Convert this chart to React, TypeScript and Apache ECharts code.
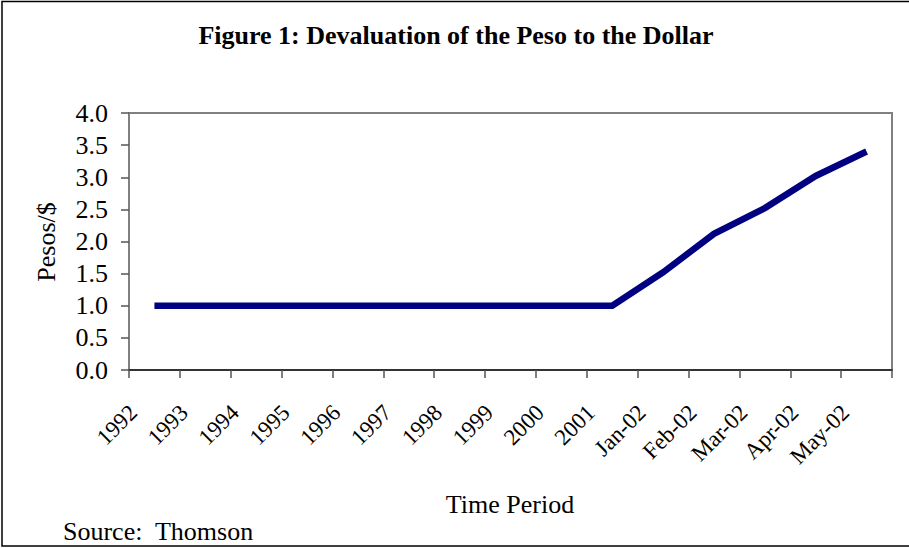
import React, { useEffect, useRef } from "react";
import * as echarts from "echarts";

const categories = [
  "1992", "1993", "1994", "1995", "1996", "1997", "1998", "1999", "2000", "2001",
  "Jan-02", "Feb-02", "Mar-02", "Apr-02", "May-02",
];
const pesosPerDollar = [1.0, 1.0, 1.0, 1.0, 1.0, 1.0, 1.0, 1.0, 1.0, 1.0, 1.52, 2.12, 2.52, 3.02, 3.4];

const FONT = "'Liberation Serif', 'Times New Roman', serif";

export default function App() {
  const ref = useRef<HTMLDivElement>(null);
  useEffect(() => {
    if (!ref.current) return;
    const chart = echarts.init(ref.current, undefined, { renderer: "svg" });
    chart.setOption({
      animation: false,
      backgroundColor: "#ffffff",
      grid: {
        left: 129,
        right: 17,
        top: 113,
        bottom: 178,
        show: true,
        borderColor: "#808080",
        borderWidth: 2,
        backgroundColor: "transparent",
      },
      xAxis: {
        type: "category",
        data: categories,
        boundaryGap: true,
        axisLine: { show: true, lineStyle: { color: "#333333", width: 2 } },
        axisTick: { show: true, length: 8, alignWithLabel: false, lineStyle: { color: "#555555", width: 1.5 } },
        axisLabel: {
          rotate: 45,
          fontFamily: FONT,
          fontSize: 23,
          color: "#000000",
          margin: 60,
          lineHeight: 60,
          verticalAlign: "bottom",
          interval: 0,
        },
        splitLine: { show: false },
      },
      yAxis: {
        type: "value",
        min: 0,
        max: 4,
        interval: 0.5,
        axisLine: { show: true, lineStyle: { color: "#808080", width: 2 } },
        axisTick: { show: true, length: 8, lineStyle: { color: "#555555", width: 1.5 } },
        axisLabel: {
          fontFamily: FONT,
          fontSize: 26,
          color: "#000000",
          margin: 21,
          formatter: (v: number) => v.toFixed(1),
        },
        splitLine: { show: false },
      },
      series: [
        {
          type: "line",
          data: pesosPerDollar,
          symbol: "none",
          lineStyle: { color: "#000080", width: 6.5, cap: "butt", join: "miter" },
        },
      ],
      graphic: [
        {
          type: "rect",
          shape: { x: 2, y: 1.5, width: 940, height: 544.5 },
          style: { fill: "none", stroke: "#000000", lineWidth: 1.5 },
          silent: true,
        },
        {
          type: "text",
          x: 456,
          y: 35,
          style: {
            text: "Figure 1: Devaluation of the Peso to the Dollar",
            font: `bold 26px ${FONT}`,
            fill: "#000000",
            align: "center",
            verticalAlign: "middle",
          },
        },
        {
          type: "text",
          x: 46,
          y: 242,
          rotation: Math.PI / 2,
          style: {
            text: "Pesos/$",
            font: `26px ${FONT}`,
            fill: "#000000",
            align: "center",
            verticalAlign: "middle",
          },
        },
        {
          type: "text",
          x: 510,
          y: 504,
          style: {
            text: "Time Period",
            font: `26px ${FONT}`,
            fill: "#000000",
            align: "center",
            verticalAlign: "middle",
          },
        },
        {
          type: "text",
          x: 63,
          y: 531,
          style: {
            text: "Source:  Thomson",
            font: `26px ${FONT}`,
            fill: "#000000",
            align: "left",
            verticalAlign: "middle",
          },
        },
      ],
    });
    return () => chart.dispose();
  }, []);
  return (
    <div
      ref={ref}
      style={{ position: "fixed", left: 0, top: 0, width: 909, height: 548 }}
    />
  );
}
